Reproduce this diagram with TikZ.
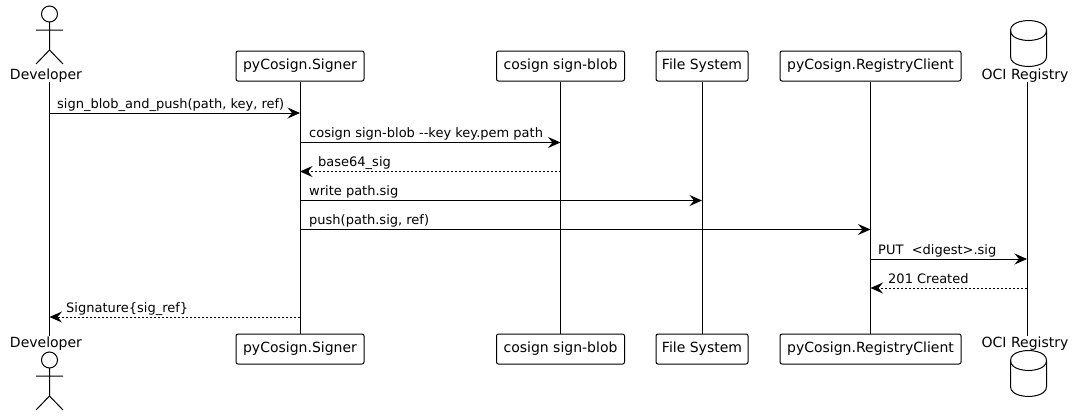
\documentclass[tikz,border=0pt]{standalone}
\usepackage{fontspec}
\setmainfont{DejaVu Sans}
\usetikzlibrary{arrows.meta}
\begin{document}
\begin{tikzpicture}[
    x=1pt, y=-1pt,
    font=\fontsize{13}{15}\selectfont,
    part/.style={rectangle, draw=black, fill=white, line width=1pt, rounded corners=2pt, minimum height=30pt, inner sep=0pt, font=\fontsize{14}{16}\selectfont},
    who/.style={inner sep=0pt, minimum height=15pt, font=\fontsize{14}{16}\selectfont},
    lifeline/.style={line width=1pt},
    call/.style={-{Stealth[length=12.5pt, width=11pt, inset=4.5pt]}, line width=1pt},
    reply/.style={call, dash pattern=on 2pt off 2pt},
    msg/.style={anchor=base west, inner sep=0pt},
    actor/.pic={
        \draw[line width=1pt] (0,0) circle (8);
        \draw[line width=1pt] (0,8) -- (0,36) (-13.5,16) -- (13.5,16) (-13.5,50) -- (0,36) -- (13.5,50);
    },
    dbcyl/.pic={
        \draw[line width=1pt, rounded corners=0pt] (0,10) .. controls (0,0) and (18,0) .. (18,0) .. controls (18,0) and (36,0) .. (36,10) -- (36,36)
            .. controls (36,46) and (18,46) .. (18,46) .. controls (18,46) and (0,46) .. (0,36) -- cycle;
        \draw[line width=1pt] (0,10) .. controls (0,20) and (18,20) .. (18,20) .. controls (18,20) and (36,20) .. (36,10);
    }
]
\useasboundingbox (0,0) rectangle (1075,415);

% Participants (Top)
\node[who] (dev_top) at (46,75.5) {Developer};
\node[part, minimum width=128pt] (signer_top) at (300,66) {pyCosign.Signer};
\node[part, minimum width=128pt] (blob_top) at (560.5,66) {cosign sign-blob};
\node[part, minimum width=92pt] (fs_top) at (702,66) {File System};
\node[part, minimum width=181pt] (reg_top) at (870.5,66) {pyCosign.RegistryClient};
\node[who] (oci_top) at (1025,75.5) {OCI Registry};

% Participants (Bottom)
\node[who] (dev_bot) at (46,343.5) {Developer};
\node[part, minimum width=128pt] (signer_bot) at (300,349) {pyCosign.Signer};
\node[part, minimum width=128pt] (blob_bot) at (560.5,349) {cosign sign-blob};
\node[part, minimum width=92pt] (fs_bot) at (702,349) {File System};
\node[part, minimum width=181pt] (reg_bot) at (870.5,349) {pyCosign.RegistryClient};
\node[who] (oci_bot) at (1025,343.5) {OCI Registry};

% Figures
\pic at (49.5,14) {actor};
\pic at (49.5,360) {actor};
\pic at (1010.5,20.5) {dbcyl};
\pic at (1010.5,350.5) {dbcyl};

% Lifelines
\coordinate (dev_a) at (49.5,82);
\coordinate (dev_b) at (49.5,336);
\coordinate (oci_a) at (1027,82);
\coordinate (oci_b) at (1027,336);
\draw[lifeline] (dev_a) -- (dev_b);
\draw[lifeline] (signer_top) -- (signer_bot);
\draw[lifeline] (blob_top) -- (blob_bot);
\draw[lifeline] (fs_top) -- (fs_bot);
\draw[lifeline] (reg_top) -- (reg_bot);
\draw[lifeline] (oci_a) -- (oci_b);

% Messages
\draw[call] (dev_a |- 0,113) -- (signer_top |- 0,113);
\node[msg] (m_sign) at (57,108) {sign\_blob\_and\_push(path, key, ref)};
\draw[call] (signer_top |- 0,142.5) -- (blob_top |- 0,142.5);
\node[msg] (m_blob) at (309,137.5) {cosign sign-blob {-}{-}key key.pem path};
\draw[reply] (blob_top |- 0,171.5) -- (signer_top |- 0,171.5);
\node[msg] (m_sig) at (318,166.5) {base64\_sig};
\draw[call] (signer_top |- 0,200.5) -- (fs_top |- 0,200.5);
\node[msg] (m_write) at (309,195.5) {write path.sig};
\draw[call] (signer_top |- 0,229.5) -- (reg_top |- 0,229.5);
\node[msg] (m_push) at (309,224.5) {push(path.sig, ref)};
\draw[call] (reg_top |- 0,259) -- (oci_a |- 0,259);
\node[msg] (m_put) at (878,254) {PUT\ \ <digest>.sig};
\draw[reply] (oci_a |- 0,288) -- (reg_top |- 0,288);
\node[msg] (m_created) at (888,283) {201 Created};
\draw[reply] (signer_top |- 0,317) -- (dev_a |- 0,317);
\node[msg] (m_ref) at (66,312) {Signature\{sig\_ref\}};

\end{tikzpicture}
\end{document}
